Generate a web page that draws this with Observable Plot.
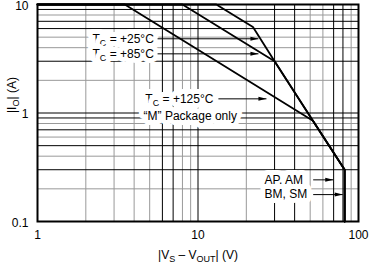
<!DOCTYPE html>
<html>
<head>
<meta charset="utf-8">
<script src="https://cdn.jsdelivr.net/npm/d3@7"></script>
<script src="https://cdn.jsdelivr.net/npm/@observablehq/plot@0.6"></script>
<style>
  html, body { margin: 0; padding: 0; background: white; }
</style>
</head>
<body>
<div id="chart"></div>
<script>
// ---- data ----
const voltTicks = [1, 10, 100];
const ampTicks = [0.1, 1, 10];
const voltGridDark = [6, 7, 10, 30, 40, 70, 80];
const voltGridLight = [2, 3, 4, 5, 8, 9, 20, 50, 60, 90];
const ampGridDark = [0.3, 0.5, 0.7, 0.9, 1, 3, 6, 7, 9];
const ampGridLight = [0.2, 0.4, 0.6, 0.8, 2, 4, 5, 8];

const volts25 = [1, 13, 22, 30, 52, 82, 82];
const amps25 = [10, 10, 6.2, 3, 0.85, 0.3, 0.1];
const volts85 = [1, 8, 30, 52, 82, 82];
const amps85 = [10, 10, 3, 0.85, 0.3, 0.1];
const volts125 = [1, 3.5, 52, 82, 82];
const amps125 = [10, 10, 0.85, 0.3, 0.1];

const labelTexts = ["T_{C} = +25°C", "T_{C} = +85°C", "T_{C} = +125°C", "“M” Package only", "AP, AM", "BM, SM"];
const labelVolts = [2.2, 2.2, 4.7, 4.58, 26, 26];
const labelAmps = [4.83, 3.51, 1.35, 0.94, 0.242, 0.177];

const arrowFromVolts = [5.6, 5.6, 13.4, 52.2, 52.2];
const arrowToVolts = [23.8, 23.8, 26.7, 69.6, 79.8];
const arrowAmps = [4.83, 3.51, 1.35, 0.242, 0.177];

const xTitle = "|V_{S} – V_{OUT}| (V)";
const yTitle = "|I_{O}| (A)";

// ---- build rows ----
const rows = (vs, as) => vs.map((v, i) => ({v, a: as[i]}));
const curve25 = rows(volts25, amps25);
const curve85 = rows(volts85, amps85);
const curve125 = rows(volts125, amps125);
const labels = labelTexts.map((t, i) => ({t, v: labelVolts[i], a: labelAmps[i]}));
const arrows = arrowAmps.map((a, i) => ({v1: arrowFromVolts[i], v2: arrowToVolts[i], a}));

const arrowHead = {
  draw(ctx) {
    ctx.moveTo(0, 0);
    ctx.lineTo(-8, -2);
    ctx.lineTo(-8, 2);
    ctx.closePath();
  }
};

const font = "'Liberation Sans', Arial, Helvetica, sans-serif";

const chart = Plot.plot({
  width: 369,
  height: 264,
  marginLeft: 37,
  marginRight: 11,
  marginTop: 4,
  marginBottom: 43,
  style: {fontFamily: font, fontSize: "12px", color: "black", background: "white"},
  x: {type: "log", domain: [1, 100], ticks: voltTicks, tickFormat: d => String(d), tickSize: 0, tickPadding: 9, label: null},
  y: {type: "log", domain: [0.1, 10], axis: null, label: null},
  marks: [
    Plot.ruleX(voltGridLight, {stroke: "#999", strokeWidth: 1}),
    Plot.ruleY(ampGridLight, {stroke: "#999", strokeWidth: 1}),
    Plot.ruleX(voltGridDark, {stroke: "#000", strokeWidth: 1}),
    Plot.ruleY(ampGridDark, {stroke: "#000", strokeWidth: 1}),
    Plot.line(curve25, {x: "v", y: "a", stroke: "black", strokeWidth: 1.8}),
    Plot.line(curve85, {x: "v", y: "a", stroke: "black", strokeWidth: 1.8}),
    Plot.line(curve125, {x: "v", y: "a", stroke: "black", strokeWidth: 1.8}),
    Plot.text(labels, {x: "v", y: "a", text: "t", textAnchor: "start", fill: "black", stroke: "white", strokeWidth: 10, fontSize: 12}),
    Plot.link(arrows, {x1: "v1", x2: "v2", y1: "a", y2: "a", stroke: "black", strokeWidth: 1}),
    Plot.dot(arrows, {x: "v2", y: "a", symbol: arrowHead, fill: "black", stroke: null}),
    Plot.frame({stroke: "black", strokeWidth: 2}),
    Plot.text(ampTicks, {y: d => d, text: d => String(d), frameAnchor: "left", textAnchor: "end", dx: -9, dy: 1.5, fontSize: 12, fill: "black"}),
    Plot.text([xTitle], {frameAnchor: "bottom", dy: 37, fontSize: 12, fill: "black"}),
    Plot.text([yTitle], {frameAnchor: "left", dx: -25, rotate: -90, fontSize: 12, fill: "black"})
  ]
});

// turn _{...} markup into real subscript tspans
const NS = "http://www.w3.org/2000/svg";
chart.querySelectorAll("text, tspan").forEach(el => {
  for (const node of Array.from(el.childNodes)) {
    if (node.nodeType !== 3 || !node.nodeValue.includes("_{")) continue;
    const parts = node.nodeValue.split(/(_\{[^}]*\})/).filter(p => p);
    const frag = document.createDocumentFragment();
    let lowered = false;
    for (const p of parts) {
      const m = p.match(/^_\{([^}]*)\}$/);
      const t = document.createElementNS(NS, "tspan");
      if (m) {
        t.textContent = m[1];
        t.setAttribute("font-size", "9");
        if (!lowered) { t.setAttribute("dy", "3"); lowered = true; }
      } else {
        t.textContent = p;
        if (lowered) { t.setAttribute("dy", "-3"); lowered = false; }
      }
      frag.appendChild(t);
    }
    el.replaceChild(frag, node);
  }
});

document.getElementById("chart").appendChild(chart);
</script>
</body>
</html>
